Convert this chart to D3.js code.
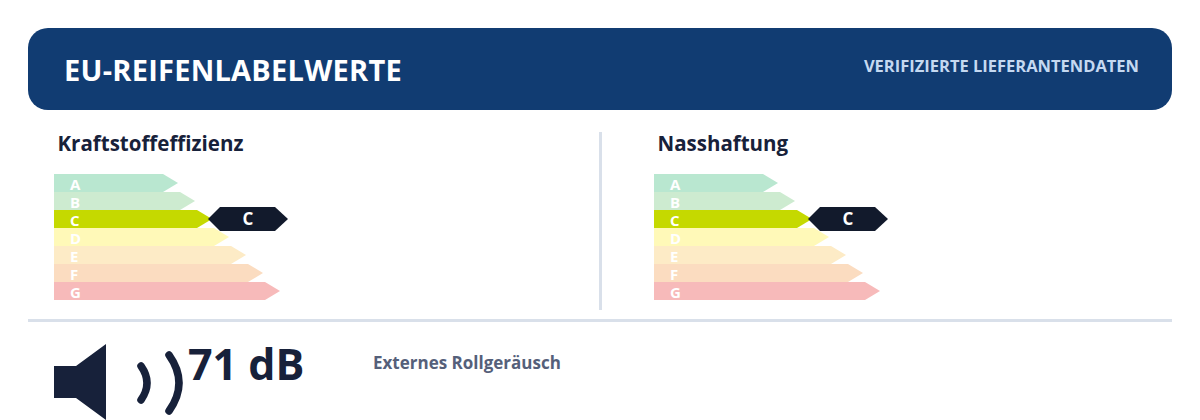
<!DOCTYPE html>
<html><head><meta charset="utf-8">
<script src="https://cdnjs.cloudflare.com/ajax/libs/d3/7.8.5/d3.min.js"></script>
<style>html,body{margin:0;padding:0;background:#fff}svg{display:block}text{font-family:"Open Sans",sans-serif;font-weight:700;font-variant-ligatures:none}</style>
</head><body><svg id="c" width="1200" height="420"></svg>
<script>
const title = "EU-REIFENLABELWERTE";
const subtitle = "VERIFIZIERTE LIEFERANTENDATEN";
const classes = ["A","B","C","D","E","F","G"];
const classColors = ["#b9e7d0","#cdebd0","#c5d900","#fff9b8","#fdebc6","#fbdcc0","#f7baba"];
const panelNames = ["Kraftstoffeffizienz","Nasshaftung"];
const panelRatings = ["C","C"];
const noiseValue = "71 dB";
const noiseLabel = "Externes Rollgeräusch";

const svg = d3.select("#c");
const y = d3.scaleBand().domain(classes).range([174,300]);
const len = d3.scaleLinear().domain([0,classes.length-1]).range([124,226]);
const panelX = d3.scalePoint().domain(panelNames).range([54,654]);
const tip = 15;

svg.append("rect").attr("x",28).attr("y",28).attr("width",1144).attr("height",82).attr("rx",20).attr("fill","#113c72");
svg.append("text").attr("x",64).attr("y",81).attr("font-size",29).attr("letter-spacing",0.25).attr("fill","#fff").text(title);
svg.append("text").attr("x",1139).attr("y",72).attr("text-anchor","end").attr("font-size",16.5).attr("fill","#c5d9f1").text(subtitle);

svg.append("rect").attr("x",599).attr("y",132).attr("width",3).attr("height",178).attr("fill","#d9e0ea");
svg.append("rect").attr("x",28).attr("y",319).attr("width",1144).attr("height",3).attr("fill","#d9e0ea");

const arrow = d3.line();
panelNames.forEach((name,p)=>{
  const x0 = panelX(name);
  const g = svg.append("g").attr("transform",`translate(${x0},0)`);
  g.append("text").attr("x",3.5).attr("y",151).attr("font-size",20.5).attr("fill","#17213a").text(name);
  classes.forEach((c,i)=>{
    const t=y(c), h=y.bandwidth(), w=len(i);
    g.append("path").attr("fill",classColors[i])
      .attr("d",arrow([[0,t],[w-tip,t],[w,t+h/2],[w-tip,t+h],[0,t+h]])+"Z");
    g.append("text").attr("x",16).attr("y",t+h/2+6.5).attr("font-size",15).attr("fill","#fff").text(c);
  });
  const r = panelRatings[p], i = classes.indexOf(r);
  const cy = y(r)+y.bandwidth()/2, mx = len(i)-4;
  g.append("path").attr("fill","#121a2c")
    .attr("d",arrow([[mx,cy],[mx+12,cy-12],[mx+67,cy-12],[mx+80,cy],[mx+67,cy+12],[mx+12,cy+12]])+"Z");
  g.append("text").attr("x",mx+40).attr("y",cy+6).attr("text-anchor","middle").attr("font-size",17).attr("fill","#fff").text(r);
});

svg.append("path").attr("fill","#17213a").attr("d",arrow([[54,366],[76,366],[106,344],[106,420],[76,398],[54,398]])+"Z");
svg.append("path").attr("fill","none").attr("stroke","#17213a").attr("stroke-width",7.5).attr("stroke-linecap","round").attr("d","M141 366Q153 383 141 400");
svg.append("path").attr("fill","none").attr("stroke","#17213a").attr("stroke-width",7.5).attr("stroke-linecap","round").attr("d","M169 355Q189 383 169 411");
svg.append("text").attr("x",188).attr("y",380).attr("font-size",43).attr("fill","#17213a").text(noiseValue);
svg.append("text").attr("x",373).attr("y",369).attr("font-size",17).attr("fill","#55607a").text(noiseLabel);
</script></body></html>
